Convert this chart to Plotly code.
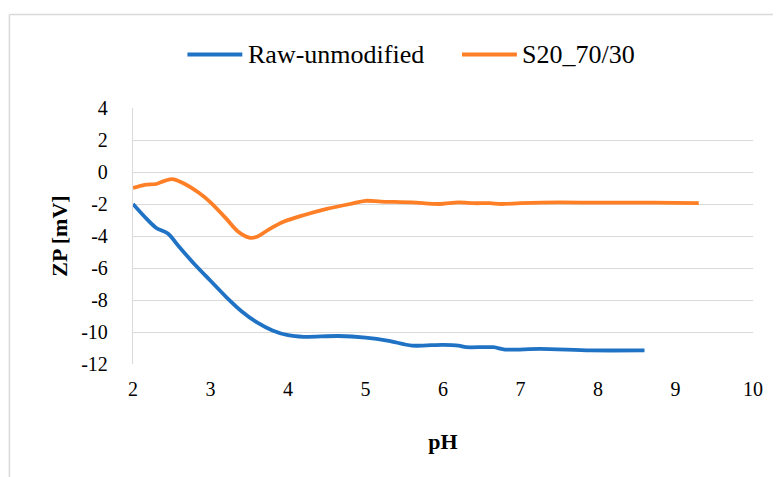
import plotly.graph_objects as go

raw_ph = [2.0, 2.15, 2.3, 2.45, 2.6, 2.8, 3.0, 3.2, 3.4, 3.6, 3.8, 4.0, 4.2, 4.65, 5.0, 5.3, 5.6, 6.0, 6.2, 6.3, 6.65, 6.8, 7.25, 7.9, 8.6]
raw_zp = [-2.0, -2.8, -3.5, -3.85, -4.7, -5.8, -6.8, -7.8, -8.7, -9.4, -9.9, -10.2, -10.3, -10.25, -10.35, -10.55, -10.85, -10.8, -10.85, -10.95, -10.95, -11.1, -11.05, -11.15, -11.15]

s20_ph = [2.0, 2.15, 2.3, 2.38, 2.5, 2.65, 2.85, 3.0, 3.2, 3.35, 3.5, 3.6, 3.75, 3.95, 4.2, 4.5, 4.8, 5.0, 5.2, 5.6, 5.95, 6.2, 6.4, 6.6, 6.75, 7.0, 7.5, 8.0, 8.7, 9.3]
s20_zp = [-1.0, -0.8, -0.75, -0.6, -0.45, -0.7, -1.3, -1.9, -2.9, -3.7, -4.1, -4.05, -3.6, -3.1, -2.7, -2.3, -2.0, -1.8, -1.85, -1.9, -2.0, -1.9, -1.95, -1.95, -2.0, -1.95, -1.9, -1.92, -1.92, -1.95]

series_names = ["Raw-unmodified", "S20_70/30"]
series_colors = ["#1f72c4", "#ff7f27"]

x_ticks = [2, 3, 4, 5, 6, 7, 8, 9, 10]
y_ticks = [4, 2, 0, -2, -4, -6, -8, -10, -12]

FONT = "Liberation Serif, Tinos, Times New Roman, DejaVu Serif, serif"

fig = go.Figure()
for xs, ys, name, color in [(raw_ph, raw_zp, series_names[0], series_colors[0]),
                            (s20_ph, s20_zp, series_names[1], series_colors[1])]:
    fig.add_trace(go.Scatter(x=xs, y=ys, mode="lines", name=name, showlegend=False,
                             line=dict(color=color, width=3.8, shape="spline", smoothing=0.8)))

# legend built as line shapes + text annotations (paper coordinates)
LEG_Y = 1.2088
leg_lines = [(0.0878, 0.1763), (0.5306, 0.6192)]
leg_text_x = [0.1828, 0.6240]

shapes = [
    dict(type="line", xref="paper", yref="paper", x0=-0.1993, x1=1.3, y0=1.3655, y1=1.3655,
         line=dict(color="#d9d9d9", width=1.5)),
    dict(type="line", xref="paper", yref="paper", x0=-0.1993, x1=-0.1993, y0=1.3655, y1=-0.6,
         line=dict(color="#d9d9d9", width=1.5)),
]
annotations = []
for (x0, x1), tx, name, color in zip(leg_lines, leg_text_x, series_names, series_colors):
    shapes.append(dict(type="line", xref="paper", yref="paper", x0=x0, x1=x1, y0=LEG_Y, y1=LEG_Y,
                       line=dict(color=color, width=4)))
    annotations.append(dict(xref="paper", yref="paper", x=tx, y=LEG_Y, text=name, showarrow=False,
                            xanchor="left", yanchor="middle",
                            font=dict(family=FONT, size=26, color="#000000")))

fig.update_layout(
    width=773, height=469,
    margin=dict(l=124.5, r=27.5, t=100.3, b=113.4, autoexpand=False),
    paper_bgcolor="white", plot_bgcolor="white",
    font=dict(family=FONT, size=20, color="#000000"),
    showlegend=False,
    xaxis=dict(range=[2, 10], tickvals=x_ticks, ticktext=[str(v) for v in x_ticks],
               showgrid=False, zeroline=False, showline=False, ticks="",
               tickfont=dict(family=FONT, size=20, color="#000000"), ticklabelstandoff=11,
               title=dict(text="<b>pH</b>", font=dict(family=FONT, size=22, color="#000000"), standoff=34)),
    yaxis=dict(range=[-12, 4], tickvals=y_ticks, ticktext=[str(v) for v in y_ticks],
               showgrid=True, gridcolor="#d9d9d9", gridwidth=1.3, zeroline=False,
               showline=True, linecolor="#d9d9d9", linewidth=1.3, ticks="",
               tickfont=dict(family=FONT, size=20, color="#000000"), ticklabelstandoff=20,
               title=dict(text="<b>ZP [mV]</b>", font=dict(family=FONT, size=22, color="#000000"), standoff=7)),
    shapes=shapes,
    annotations=annotations,
)

fig.write_html("out.html")
